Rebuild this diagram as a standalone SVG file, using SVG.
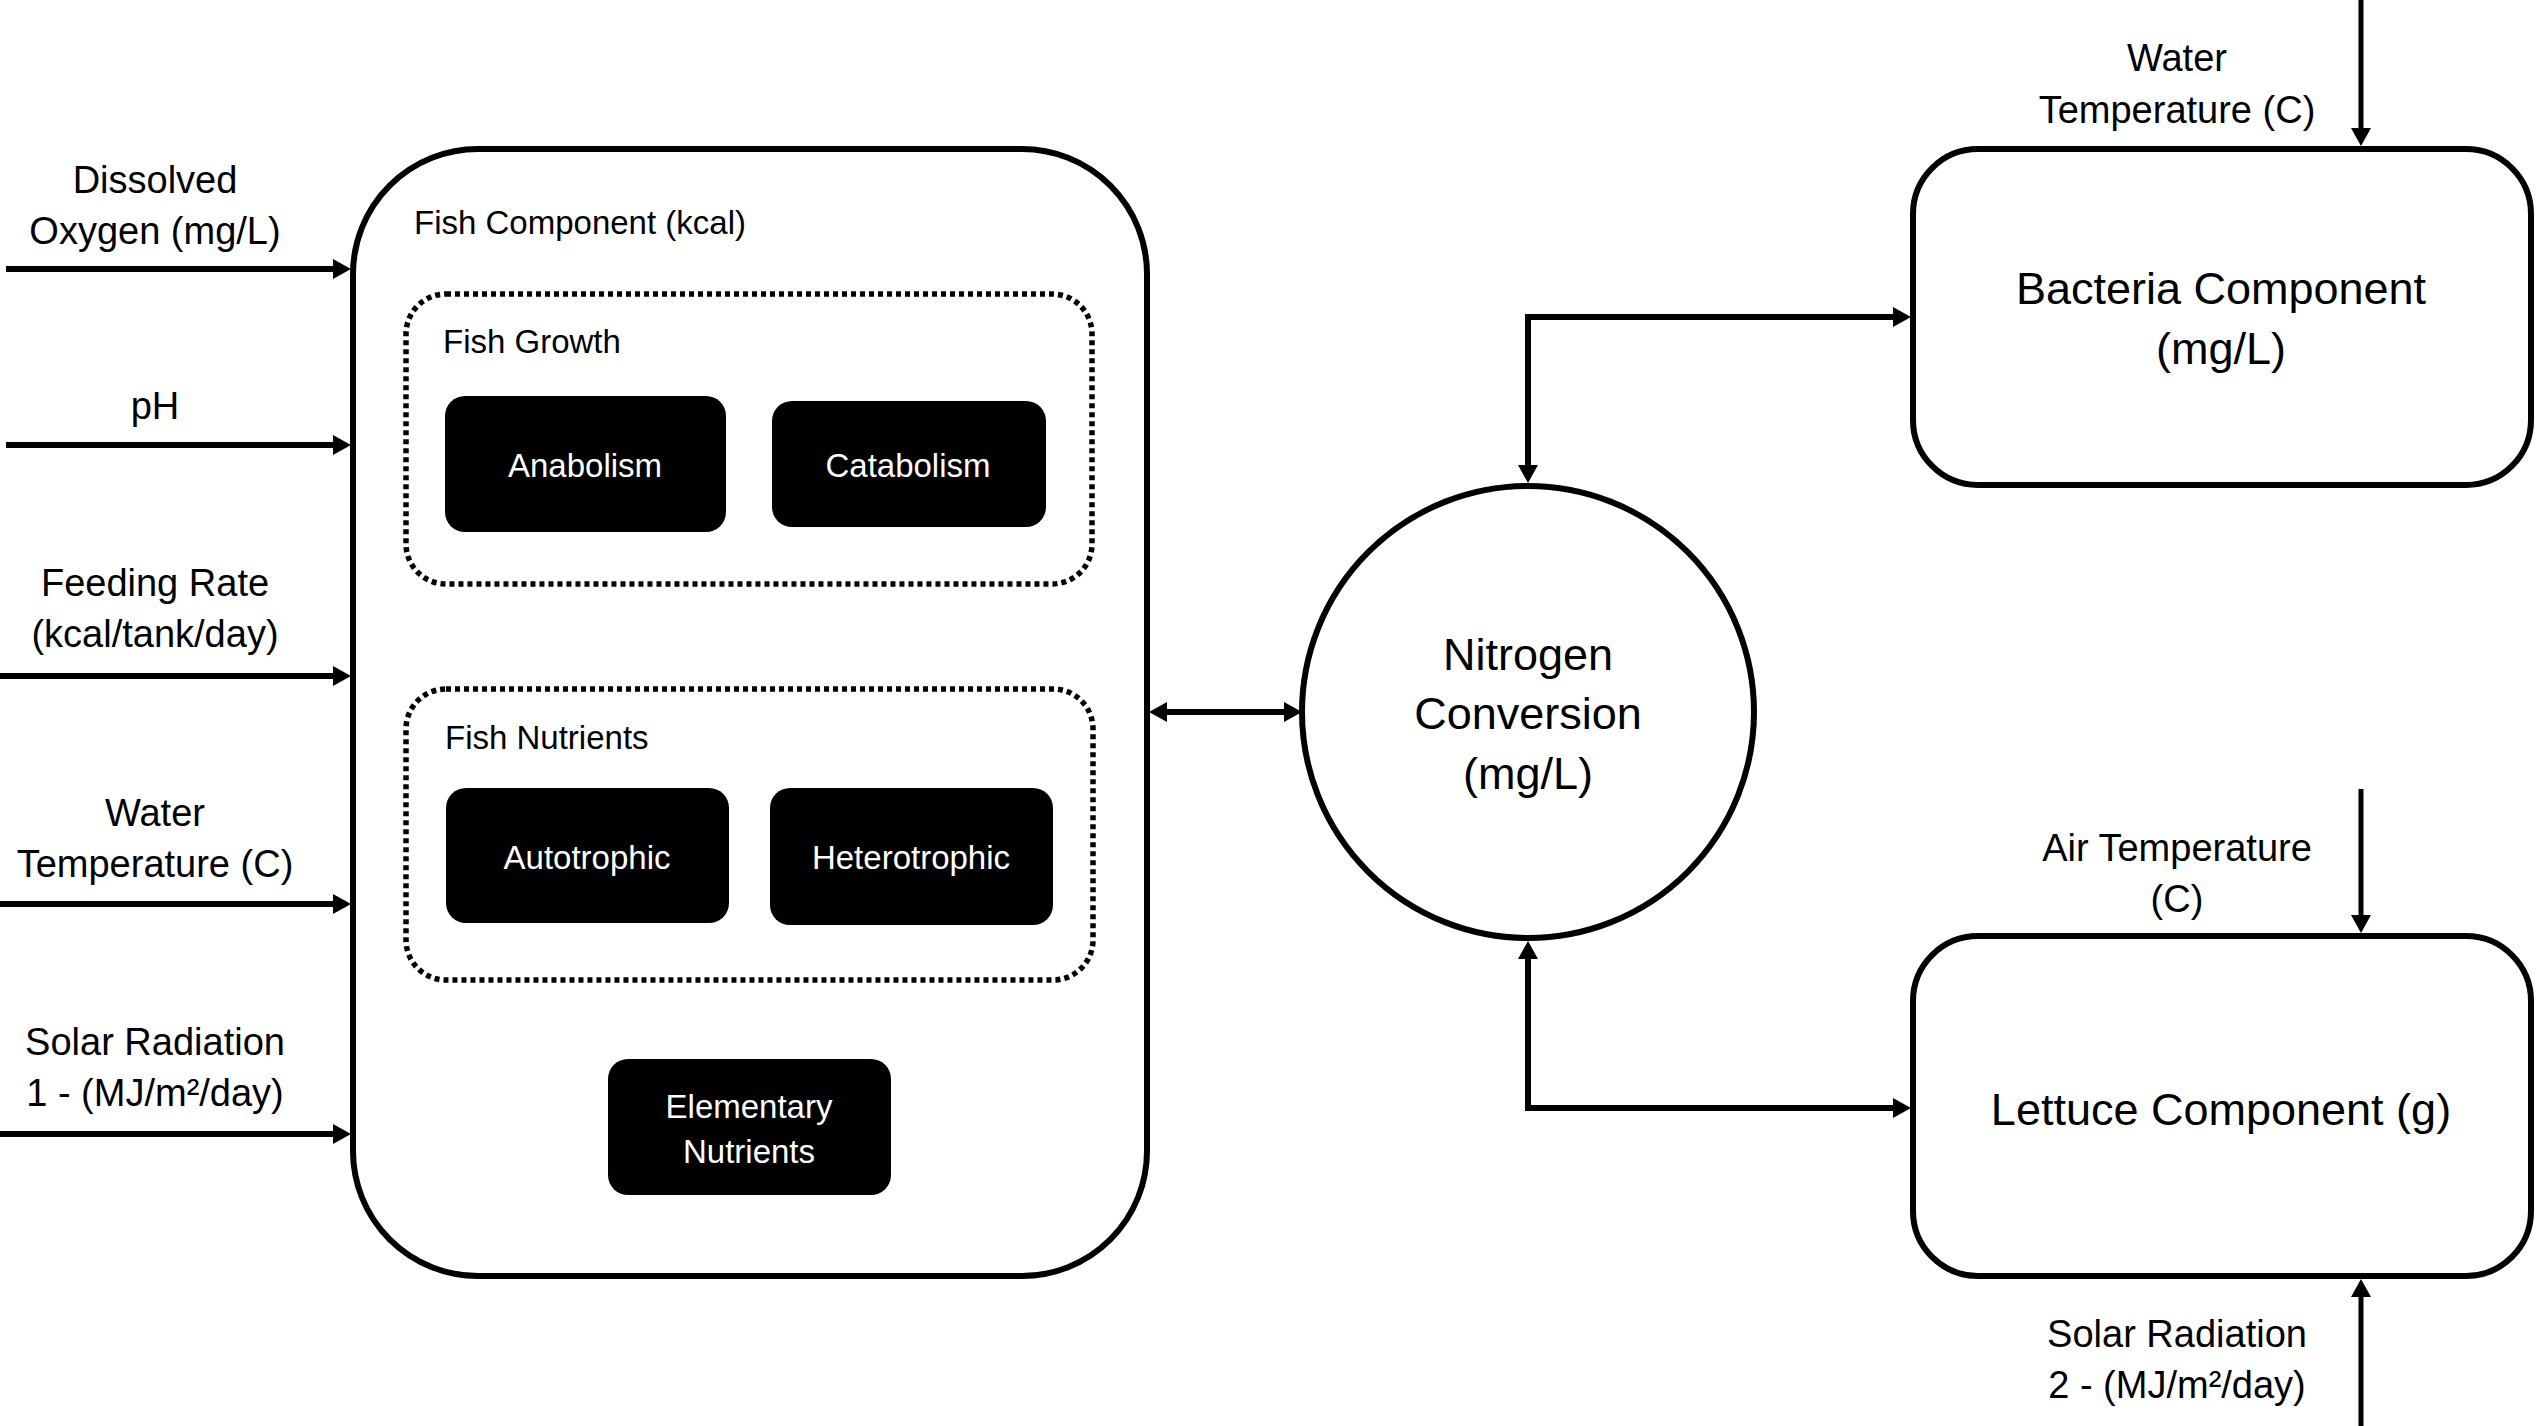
<svg xmlns="http://www.w3.org/2000/svg" width="2536" height="1426" viewBox="0 0 2536 1426">
<style>
text{font-family:"Liberation Sans",Arial,sans-serif;fill:#000;dominant-baseline:central}
.lbl{font-size:38px;text-anchor:middle}
.big{font-size:45px;text-anchor:middle}
.sm{font-size:33px}
.wt{font-size:33px;fill:#fff;text-anchor:middle}
.box{fill:#fff;stroke:#000;stroke-width:6}
.dot{fill:none;stroke:#000;stroke-width:5.5;stroke-dasharray:5 4}
.blk{fill:#000}
.ln{fill:none;stroke:#000;stroke-width:6}
.vln{fill:none;stroke:#000;stroke-width:5}
</style>
<defs>
<marker id="ah" viewBox="0 0 18 20" markerWidth="18" markerHeight="20" refX="0" refY="10" orient="auto-start-reverse" markerUnits="userSpaceOnUse">
<path d="M0,0 L18,10 L0,20 z" fill="#000"/>
</marker>
</defs>
<rect width="2536" height="1426" fill="#fff"/>

<g id="fish-component">
<rect class="box" x="353" y="149" width="794" height="1127" rx="125" ry="125"/>
<text class="sm" x="414" y="222">Fish Component (kcal)</text>
</g>
<g id="fish-growth">
<rect class="dot" x="406" y="294" width="686" height="290" rx="40" ry="40"/>
<text class="sm" x="443" y="341">Fish Growth</text>
</g>
<g id="anabolism">
<rect class="blk" x="445" y="396" width="281" height="136" rx="20" ry="20"/>
<text class="wt" x="585" y="465">Anabolism</text>
</g>
<g id="catabolism">
<rect class="blk" x="772" y="401" width="274" height="126" rx="20" ry="20"/>
<text class="wt" x="908" y="465">Catabolism</text>
</g>
<g id="fish-nutrients">
<rect class="dot" x="406" y="689" width="687" height="291" rx="40" ry="40"/>
<text class="sm" x="445" y="737">Fish Nutrients</text>
</g>
<g id="autotrophic">
<rect class="blk" x="446" y="788" width="283" height="135" rx="20" ry="20"/>
<text class="wt" x="587" y="857">Autotrophic</text>
</g>
<g id="heterotrophic">
<rect class="blk" x="770" y="788" width="283" height="137" rx="20" ry="20"/>
<text class="wt" x="911" y="857">Heterotrophic</text>
</g>
<g id="elementary-nutrients">
<rect class="blk" x="608" y="1059" width="283" height="136" rx="20" ry="20"/>
<text class="wt" x="749" y="1106">Elementary</text>
<text class="wt" x="749" y="1151">Nutrients</text>
</g>

<g id="nitrogen-conversion">
<circle class="box" cx="1528" cy="712" r="226"/>
<text class="big" x="1528" y="654">Nitrogen</text>
<text class="big" x="1528" y="713">Conversion</text>
<text class="big" x="1528" y="773">(mg/L)</text>
</g>
<g id="bacteria-component">
<rect class="box" x="1913" y="149" width="618" height="336" rx="65" ry="65"/>
<text class="big" x="2221" y="288">Bacteria Component</text>
<text class="big" x="2221" y="348">(mg/L)</text>
</g>
<g id="lettuce-component">
<rect class="box" x="1913" y="936" width="618" height="340" rx="65" ry="65"/>
<text class="big" x="2221" y="1109">Lettuce Component (g)</text>
</g>

<g id="input-labels">
<text class="lbl" x="155" y="180">Dissolved</text>
<text class="lbl" x="155" y="231">Oxygen (mg/L)</text>
<text class="lbl" x="155" y="406">pH</text>
<text class="lbl" x="155" y="583">Feeding Rate</text>
<text class="lbl" x="155" y="634">(kcal/tank/day)</text>
<text class="lbl" x="155" y="813">Water</text>
<text class="lbl" x="155" y="864">Temperature (C)</text>
<text class="lbl" x="155" y="1042">Solar Radiation</text>
<text class="lbl" x="155" y="1093">1 - (MJ/m²/day)</text>
<text class="lbl" x="2177" y="58">Water</text>
<text class="lbl" x="2177" y="110">Temperature (C)</text>
<text class="lbl" x="2177" y="848">Air Temperature</text>
<text class="lbl" x="2177" y="899">(C)</text>
<text class="lbl" x="2177" y="1334">Solar Radiation</text>
<text class="lbl" x="2177" y="1385">2 - (MJ/m²/day)</text>
</g>

<g id="connectors">
<path class="ln" d="M6,269 L333,269" marker-end="url(#ah)"/>
<path class="ln" d="M6,445 L333,445" marker-end="url(#ah)"/>
<path class="ln" d="M0,676 L333,676" marker-end="url(#ah)"/>
<path class="ln" d="M0,904 L333,904" marker-end="url(#ah)"/>
<path class="ln" d="M0,1134 L333,1134" marker-end="url(#ah)"/>
<path class="ln" d="M1167,712 L1284,712" marker-start="url(#ah)" marker-end="url(#ah)"/>
<path class="ln" d="M1528,465 L1528,317 L1893,317" marker-start="url(#ah)" marker-end="url(#ah)"/>
<path class="ln" d="M1528,959 L1528,1108 L1893,1108" marker-start="url(#ah)" marker-end="url(#ah)"/>
<path class="vln" d="M2361,0 L2361,128" marker-end="url(#ah)"/>
<path class="vln" d="M2361,789 L2361,915" marker-end="url(#ah)"/>
<path class="vln" d="M2361,1426 L2361,1297" marker-end="url(#ah)"/>
</g>
</svg>
